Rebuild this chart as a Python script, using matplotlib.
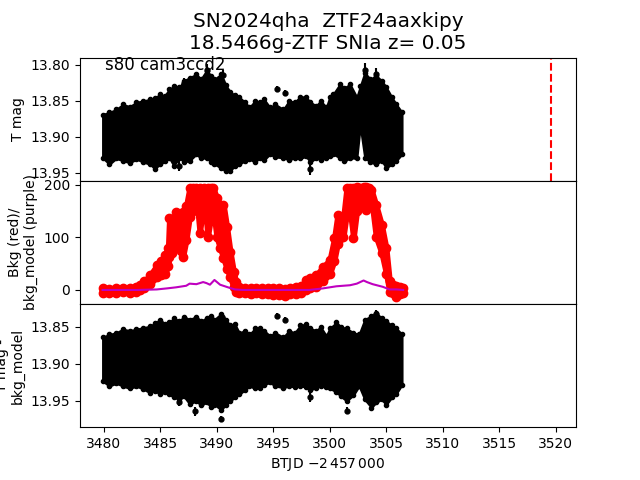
import matplotlib
matplotlib.use("Agg")
import matplotlib.pyplot as plt
import numpy as np

# ---- Top panel: T mag envelope (upper = brighter, lower = fainter) ----
t_top = [3479.9, 3480.5, 3481.1, 3481.7, 3482.3, 3482.9, 3483.5, 3484.1, 3484.5, 3485.0,
         3485.4, 3485.8, 3486.2, 3486.7, 3487.1, 3487.6, 3488.2, 3488.6, 3489.1, 3489.5,
         3489.8, 3490.4, 3490.8, 3491.2, 3491.6, 3492.0, 3492.5, 3492.9, 3493.4, 3493.8,
         3494.2, 3494.7, 3495.2, 3495.9, 3496.4, 3496.9, 3497.4, 3497.9, 3498.3, 3498.8,
         3499.2, 3499.7, 3500.0, 3500.3, 3500.9, 3501.3, 3501.8, 3502.4, 3502.7, 3503.1,
         3503.6, 3504.1, 3504.6, 3505.0, 3505.5, 3505.9, 3506.4]
top_hi = [13.869, 13.866, 13.862, 13.855, 13.858, 13.852, 13.850, 13.848, 13.846, 13.841,
          13.843, 13.834, 13.830, 13.831, 13.822, 13.818, 13.813, 13.820, 13.808, 13.815,
          13.820, 13.813, 13.828, 13.838, 13.842, 13.845, 13.852, 13.859, 13.850, 13.852,
          13.848, 13.859, 13.855, 13.862, 13.850, 13.852, 13.844, 13.845, 13.852, 13.857,
          13.850, 13.859, 13.845, 13.841, 13.827, 13.832, 13.827, 13.845, 13.830, 13.811,
          13.820, 13.815, 13.822, 13.831, 13.845, 13.855, 13.866]
top_lo = [13.929, 13.938, 13.930, 13.933, 13.936, 13.931, 13.935, 13.938, 13.944, 13.938,
          13.934, 13.929, 13.940, 13.929, 13.935, 13.933, 13.924, 13.930, 13.929, 13.935,
          13.938, 13.943, 13.948, 13.947, 13.940, 13.938, 13.933, 13.931, 13.935, 13.929,
          13.932, 13.924, 13.928, 13.929, 13.932, 13.929, 13.930, 13.927, 13.935, 13.929,
          13.932, 13.929, 13.926, 13.924, 13.929, 13.934, 13.929, 13.930, 13.885, 13.929,
          13.935, 13.938, 13.933, 13.943, 13.938, 13.933, 13.924]
# isolated points (with error bars) sticking out of the band
t_top_pts = [3487.1, 3489.1, 3490.6, 3495.3, 3496.0, 3503.1, 3504.1, 3486.7, 3490.4, 3498.3]
m_top_pts = [13.825, 13.807, 13.814, 13.834, 13.839, 13.807, 13.813, 13.940, 13.941, 13.945]
e_top_pts = [0.007, 0.008, 0.007, 0.004, 0.004, 0.009, 0.008, 0.007, 0.007, 0.008]
t_sn = 3519.6

# ---- Middle panel: background (red) and background model (purple) ----
t_bkg = [3479.9, 3480.5, 3481.1, 3481.7, 3482.3, 3482.9, 3483.2, 3483.6, 3484.1, 3484.7,
         3485.1, 3485.4, 3485.7, 3485.8, 3486.0, 3486.4, 3486.8, 3487.0, 3487.3, 3487.6,
         3487.9, 3488.2, 3488.5, 3488.9, 3489.2, 3489.5, 3489.7, 3490.0, 3490.3, 3490.6,
         3490.9, 3491.2, 3491.5, 3491.7, 3492.0, 3492.5, 3493.0, 3493.5, 3494.0, 3494.5,
         3495.0, 3495.5, 3496.0, 3496.5, 3497.0, 3497.5, 3497.9, 3498.3, 3498.8, 3499.4,
         3500.0, 3500.4, 3500.7, 3501.2, 3501.5, 3501.8, 3502.1, 3502.4, 3502.7, 3503.0,
         3503.2, 3503.5, 3503.7, 3504.1, 3504.6, 3505.0, 3505.3, 3505.6, 3505.9, 3506.2,
         3506.5]
bkg_hi = [3, 2, 3, 4, 4, 5, 9, 17, 28, 47,
          55, 66, 80, 136, 130, 149, 140, 149, 160, 194,
          194, 194, 194, 194, 194, 194, 194, 175, 162, 162,
          120, 73, 35, 16, 6, 3, 4, 3, 4, 3,
          4, 3, 2, 4, 5, 8, 19, 22, 28, 44,
          57, 98, 143, 136, 194, 194, 194, 196, 194, 196,
          196, 194, 190, 162, 124, 80, 17, 10, 7, 5,
          3]
bkg_lo = [-5, -6, -5, -4, -5, -3, -1, 4, 12, 24,
          28, 31, 45, 62, 70, 82, 75, 62, 95, 139,
          150, 177, 109, 177, 101, 140, 152, 100, 80, 60,
          40, 24, 5, -4, -6, -5, -7, -6, -8, -7,
          -9, -10, -12, -8, -7, -5, 0, 3, 5, 17,
          30, 56, 88, 100, 145, 150, 98, 150, 177, 160,
          152, 165, 171, 101, 70, 31, -4, -6, -14, -8,
          -5]
t_model = [3479.9, 3483.0, 3484.7, 3485.6, 3486.4, 3487.3, 3487.6, 3488.2, 3488.8, 3489.1,
           3489.4, 3489.8, 3490.3, 3491.0, 3491.6, 3492.3, 3498.2, 3499.4, 3500.6, 3501.8,
           3502.4, 3502.7, 3503.0, 3503.3, 3503.8, 3504.7, 3505.3, 3505.9, 3506.5]
bkg_model = [0, 0, 1, 3, 5, 8, 12, 11, 15, 13,
             10, 19, 10, 5, 1, 0, 0, 3, 7, 9,
             12, 15, 18, 15, 11, 6, 1, 1, 0]

# ---- Bottom panel: T mag - bkg_model envelope ----
t_bot = [3479.9, 3480.5, 3481.1, 3481.7, 3482.3, 3482.9, 3483.5, 3484.1, 3484.5, 3485.0,
         3485.4, 3485.8, 3486.2, 3486.7, 3487.1, 3487.6, 3488.2, 3488.6, 3489.1, 3489.5,
         3489.8, 3490.4, 3490.8, 3491.2, 3491.6, 3492.0, 3492.5, 3492.9, 3493.4, 3493.8,
         3494.2, 3494.7, 3495.2, 3495.9, 3496.4, 3496.9, 3497.4, 3497.9, 3498.3, 3498.8,
         3499.2, 3499.7, 3500.0, 3500.6, 3501.0, 3501.5, 3502.1, 3502.6, 3503.1, 3503.7,
         3504.1, 3504.6, 3505.0, 3505.5, 3505.9, 3506.4]
bot_hi = [13.864, 13.860, 13.858, 13.853, 13.855, 13.853, 13.851, 13.849, 13.845, 13.840,
          13.846, 13.844, 13.838, 13.842, 13.836, 13.840, 13.836, 13.842, 13.838, 13.835,
          13.840, 13.832, 13.840, 13.848, 13.846, 13.858, 13.855, 13.860, 13.852, 13.851,
          13.855, 13.862, 13.858, 13.864, 13.855, 13.858, 13.848, 13.846, 13.852, 13.855,
          13.850, 13.862, 13.852, 13.844, 13.850, 13.852, 13.858, 13.860, 13.840, 13.835,
          13.831, 13.838, 13.842, 13.848, 13.852, 13.860]
bot_lo = [13.923, 13.930, 13.926, 13.930, 13.933, 13.930, 13.934, 13.939, 13.936, 13.941,
          13.938, 13.941, 13.945, 13.948, 13.944, 13.954, 13.950, 13.956, 13.952, 13.958,
          13.955, 13.962, 13.955, 13.950, 13.945, 13.941, 13.935, 13.930, 13.933, 13.932,
          13.928, 13.925, 13.930, 13.932, 13.930, 13.931, 13.930, 13.931, 13.935, 13.932,
          13.930, 13.931, 13.933, 13.938, 13.944, 13.950, 13.942, 13.930, 13.948, 13.959,
          13.952, 13.948, 13.955, 13.945, 13.940, 13.928]
t_bot_pts = [3487.1, 3489.1, 3490.5, 3495.3, 3496.0, 3504.1, 3486.7, 3488.1, 3490.4, 3498.3, 3501.5]
m_bot_pts = [13.841, 13.840, 13.836, 13.835, 13.840, 13.832, 13.952, 13.964, 13.975, 13.945, 13.963]
e_bot_pts = [0.005, 0.005, 0.006, 0.004, 0.004, 0.005, 0.005, 0.006, 0.004, 0.006, 0.005]

fig, (ax1, ax2, ax3) = plt.subplots(3, 1, sharex=True, figsize=(6.4, 4.8), dpi=100)
fig.subplots_adjust(hspace=0)

# top
ax1.fill_between(t_top, top_hi, top_lo, color='k', lw=1.5, edgecolor='k')
ax1.plot(t_top, top_hi, 'o', color='k', ms=3)
ax1.plot(t_top, top_lo, 'o', color='k', ms=3)
ax1.errorbar(t_top_pts, m_top_pts, yerr=e_top_pts, fmt='o', color='k', ms=3.5, lw=1.5)
ax1.axvline(t_sn, color='r', ls='--', lw=1.5)
ax1.set_ylim(13.961, 13.790)
ax1.set_yticks([13.80, 13.85, 13.90, 13.95])
ax1.set_ylabel('T mag')
ax1.text(0.05, 0.9, 's80 cam3ccd2', transform=ax1.transAxes, fontsize=12)
ax1.set_title('SN2024qha  ZTF24aaxkipy\n18.5466g-ZTF SNIa z= 0.05', fontsize=14.4)

# middle
ax2.fill_between(t_bkg, bkg_hi, bkg_lo, color='r', lw=4, edgecolor='r')
ax2.plot(t_bkg, bkg_hi, 'o', color='r', ms=6)
ax2.plot(t_bkg, bkg_lo, 'o', color='r', ms=6)
ax2.plot(t_model, bkg_model, '-', color='m', lw=1.5)
ax2.set_ylim(-26.7, 207.6)
ax2.set_yticks([0, 100, 200])
ax2.set_ylabel('Bkg (red)/\nbkg_model (purple)')

# bottom
ax3.fill_between(t_bot, bot_hi, bot_lo, color='k', lw=1.5, edgecolor='k')
ax3.plot(t_bot, bot_hi, 'o', color='k', ms=3)
ax3.plot(t_bot, bot_lo, 'o', color='k', ms=3)
ax3.errorbar(t_bot_pts, m_bot_pts, yerr=e_bot_pts, fmt='o', color='k', ms=3.5, lw=1.5)
ax3.set_ylim(13.9855, 13.819)
ax3.set_yticks([13.85, 13.90, 13.95])
ax3.set_ylabel('T mag -\nbkg_model')
ax3.set_xlim(3477.9, 3521.8)
ax3.set_xticks([3480, 3485, 3490, 3495, 3500, 3505, 3510, 3515, 3520])
ax3.set_xlabel(r'BTJD $-2\,457\,000$')

fig.savefig('out.png', dpi=100)
